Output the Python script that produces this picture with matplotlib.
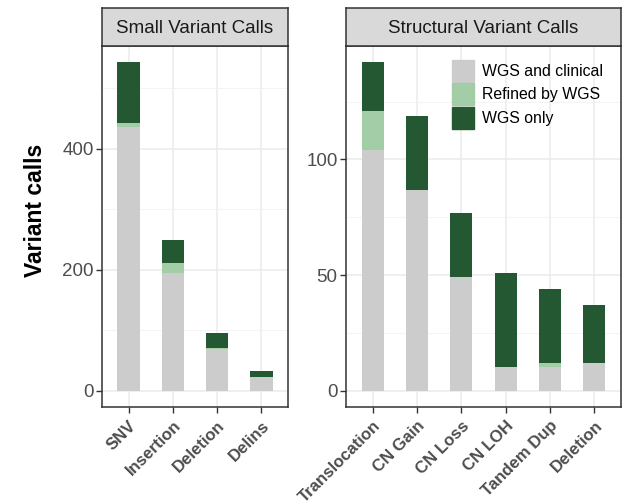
import matplotlib
matplotlib.use("Agg")
import matplotlib.pyplot as plt
from matplotlib.patches import Patch

plt.rcParams['font.family'] = ['Liberation Sans', 'DejaVu Sans']

# data
small_cats = ["SNV", "Insertion", "Deletion", "Delins"]
small_clinical = [436, 194, 69, 22]
small_refined = [7, 17, 1, 1]
small_wgs_only = [100, 38, 26, 10]

sv_cats = ["Translocation", "CN Gain", "CN Loss", "CN LOH", "Tandem Dup", "Deletion"]
sv_clinical = [104, 87, 49, 10, 10, 12]
sv_refined = [17, 0, 0, 0, 2, 0]
sv_wgs_only = [21, 32, 28, 41, 32, 25]

legend_labels = ["WGS and clinical", "Refined by WGS", "WGS only"]
col_clin = "#CCCCCC"
col_ref = "#A3CDA6"
col_only = "#245832"
border = "#333333"
tick_col = "#4D4D4D"

W, H = 628, 504
fig = plt.figure(figsize=(W / 100, H / 100), dpi=100)


def px_axes(x0, x1, top, bottom):
    return fig.add_axes([x0 / W, 1 - bottom / H, (x1 - x0) / W, (bottom - top) / H])


def panel(x0, x1, cats, clin, ref, only, title, yticks, yminor):
    ax = px_axes(x0, x1, 46, 407)
    xs = list(range(len(cats)))
    ax.bar(xs, clin, width=0.5, color=col_clin, zorder=3)
    ax.bar(xs, ref, width=0.5, bottom=clin, color=col_ref, zorder=3)
    bot2 = [a + b for a, b in zip(clin, ref)]
    ax.bar(xs, only, width=0.5, bottom=bot2, color=col_only, zorder=3)
    top = max(a + b for a, b in zip(bot2, only))
    ax.set_ylim(-0.05 * top, 1.05 * top)
    ax.set_xlim(-0.6, len(cats) - 0.4)
    ax.set_yticks(yticks)
    ax.set_yticks(yminor, minor=True)
    ax.set_xticks(xs)
    ax.set_xticklabels(cats, rotation=45, ha='right', va='top', rotation_mode='anchor',
                       fontsize=12.1, fontweight='bold', color=tick_col)
    ax.tick_params(axis='y', labelsize=13.5, labelcolor=tick_col)
    ax.tick_params(which='major', length=4, width=1, color=border, pad=2)
    ax.tick_params(axis='x', pad=4)
    ax.tick_params(which='minor', length=0)
    ax.grid(True, which='major', color="#EBEBEB", lw=1.1, zorder=0)
    ax.grid(True, which='minor', axis='y', color="#F2F2F2", lw=0.6, zorder=0)
    for s in ax.spines.values():
        s.set_color(border)
        s.set_linewidth(1.1)
    # facet strip
    st = px_axes(x0, x1, 8, 46)
    st.set_xticks([])
    st.set_yticks([])
    st.set_facecolor("#D9D9D9")
    for s in st.spines.values():
        s.set_color(border)
        s.set_linewidth(1.1)
    st.text(0.5, 0.47, title, ha='center', va='center', fontsize=13.5, color="#1A1A1A",
            transform=st.transAxes)
    return ax


ax1 = panel(102, 288, small_cats, small_clinical, small_refined, small_wgs_only,
            "Small Variant Calls", [0, 200, 400], [100, 300, 500])
ax2 = panel(346, 621, sv_cats, sv_clinical, sv_refined, sv_wgs_only,
            "Structural Variant Calls", [0, 50, 100], [25, 75, 125])

fig.text(35 / W, 1 - 210 / H, "Variant calls", rotation=90, ha='center', va='center',
         fontsize=16.5, fontweight='bold', color='black')

handles = [Patch(color=c) for c in [col_clin, col_ref, col_only]]
ax2.legend(handles, legend_labels, loc='upper left', bbox_to_anchor=(452 / W, 1 - 60 / H),
           bbox_transform=fig.transFigure, frameon=False, fontsize=11.4,
           handlelength=1.39, handleheight=1.76, labelspacing=0.08, handletextpad=0.5,
           borderpad=0, borderaxespad=0)

fig.savefig("out.png", dpi=100)
